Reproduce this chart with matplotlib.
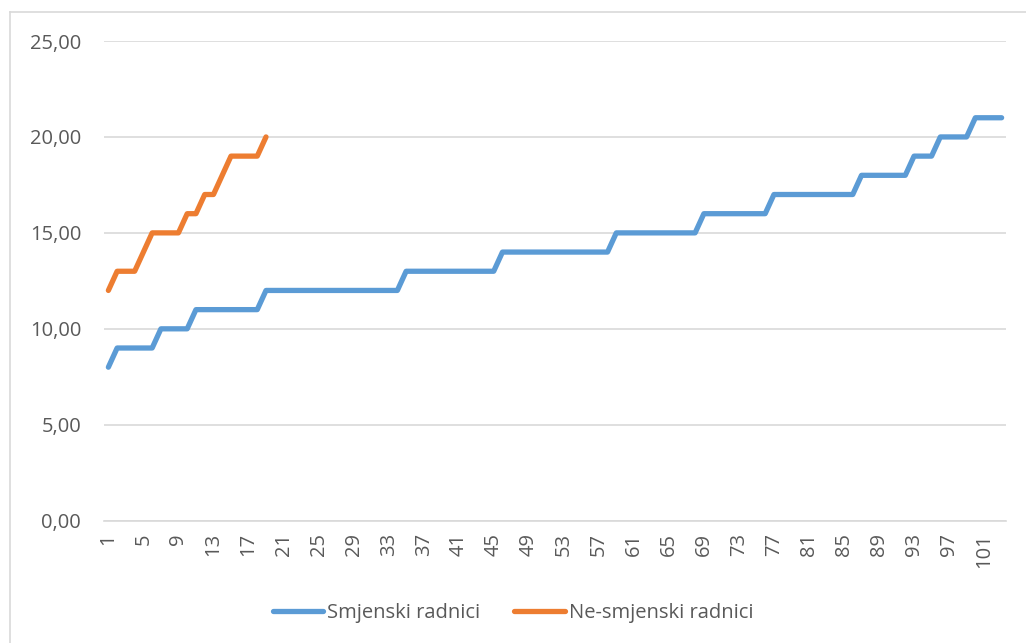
import matplotlib
matplotlib.use("Agg")
import matplotlib.pyplot as plt
from matplotlib.lines import Line2D

# podaci ocitani s grafa
smjenski = [8,
            9, 9, 9, 9, 9,
            10, 10, 10, 10,
            11, 11, 11, 11, 11, 11, 11, 11,
            12, 12, 12, 12, 12, 12, 12, 12, 12, 12, 12, 12, 12, 12, 12, 12,
            13, 13, 13, 13, 13, 13, 13, 13, 13, 13, 13,
            14, 14, 14, 14, 14, 14, 14, 14, 14, 14, 14, 14, 14,
            15, 15, 15, 15, 15, 15, 15, 15, 15, 15,
            16, 16, 16, 16, 16, 16, 16, 16,
            17, 17, 17, 17, 17, 17, 17, 17, 17, 17,
            18, 18, 18, 18, 18, 18,
            19, 19, 19,
            20, 20, 20, 20,
            21, 21, 21, 21]
ne_smjenski = [12, 13, 13, 13, 14, 15, 15, 15, 15, 16, 16, 17, 17, 18, 19, 19, 19, 19, 20]
x_smj = list(range(1, len(smjenski) + 1))
x_ne = list(range(1, len(ne_smjenski) + 1))
xtick_vals = list(range(1, 102, 4))
ytick_vals = [0, 5, 10, 15, 20, 25]

plt.rcParams['font.family'] = ['Open Sans', 'DejaVu Sans']
txt = '#595959'
grid = '#D9D9D9'

fig = plt.figure(figsize=(10.26, 6.43), dpi=100)
ax = fig.add_axes([104/1026, 1 - 520.7/643, (1006-104)/1026, (520.7-41)/643])

ax.plot(x_smj, smjenski, color='#5B9BD5', lw=3.8, solid_capstyle='round',
        solid_joinstyle='round', label='Smjenski radnici')
ax.plot(x_ne, ne_smjenski, color='#ED7D31', lw=3.8, solid_capstyle='round',
        solid_joinstyle='round', label='Ne-smjenski radnici')

ax.set_xlim(0.5, len(smjenski) + 0.5)
ax.set_ylim(0, 25)
ax.set_xticks(xtick_vals)
ax.set_xticklabels([str(v) for v in xtick_vals], rotation=90)
ax.set_yticks(ytick_vals)
ax.set_yticklabels([('%.2f' % v).replace('.', ',') for v in ytick_vals])
ax.tick_params(axis='both', length=0, labelsize=14.5, colors=txt)
ax.tick_params(axis='x', pad=9)
ax.tick_params(axis='y', pad=16.5)
ax.grid(axis='y', color=grid, lw=1.2)
ax.set_axisbelow(True)
for s in ['top', 'right', 'left']:
    ax.spines[s].set_visible(False)
ax.spines['bottom'].set_color(grid)
ax.spines['bottom'].set_linewidth(1.2)

leg = fig.legend(loc='center', bbox_to_anchor=(0.5, 1 - 613/643), ncol=2, frameon=False,
                 fontsize=14.5, handlelength=2.5, handletextpad=0.2, columnspacing=1.7)
for t in leg.get_texts():
    t.set_color(txt)

# okvir grafa
fig.add_artist(Line2D([9.5/1026, 9.5/1026], [0, 1 - 12/643], color=grid, lw=1.2))
fig.add_artist(Line2D([9.5/1026, 1], [1 - 12/643, 1 - 12/643], color=grid, lw=1.2))

fig.savefig('out.png', dpi=100)
